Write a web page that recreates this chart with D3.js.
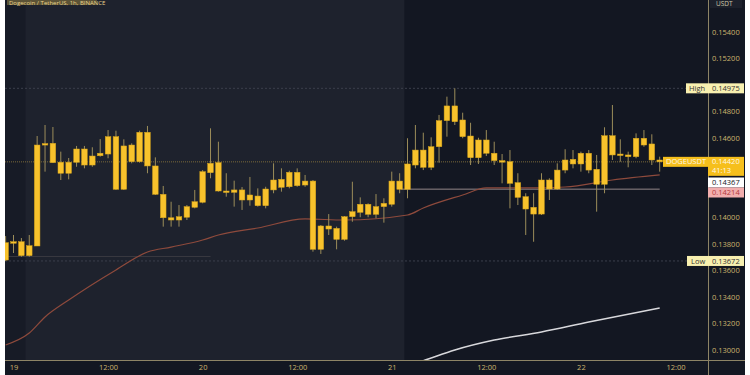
<!DOCTYPE html>
<html>
<head>
<meta charset="utf-8">
<style>
  body { margin: 0; background: #fff; }
  svg { display: block; }
  .tick text { font-family: "Open Sans", sans-serif; }
</style>
<script src="https://d3js.org/d3.v7.min.js"></script>
</head>
<body>
<div id="chart"></div>
<script>
// hourly candles, first one is 18th 23:00 UTC
var firstHour = Date.UTC(2023, 0, 18, 23);
var opens  = [0.13679,0.13808,0.13817,0.13712,0.13785,0.14547,0.14560,0.14417,0.14334,0.14417,0.14517,0.14396,0.14466,0.14479,0.14610,0.14213,0.14547,0.14421,0.14643,0.14389,0.14175,0.13998,0.13981,0.14002,0.14077,0.14115,0.14338,0.14414,0.14200,0.14190,0.14208,0.14132,0.14162,0.14089,0.14208,0.14228,0.14232,0.14341,0.14245,0.14275,0.13760,0.13936,0.13918,0.13835,0.14006,0.14039,0.14100,0.14024,0.14082,0.14100,0.14275,0.14213,0.14396,0.14509,0.14379,0.14534,0.14731,0.14842,0.14736,0.14615,0.14451,0.14585,0.14485,0.14429,0.14421,0.14263,0.14157,0.14077,0.14026,0.14283,0.14215,0.14358,0.14439,0.14404,0.14485,0.14364,0.14251,0.14617,0.14472,0.14472,0.14459,0.14598,0.14555,0.14434];
var highs  = [0.13860,0.13868,0.13845,0.13868,0.14615,0.14698,0.14683,0.14497,0.14449,0.14540,0.14540,0.14530,0.14592,0.14660,0.14655,0.14590,0.14560,0.14655,0.14691,0.14454,0.14238,0.14119,0.14094,0.14094,0.14208,0.14358,0.14673,0.14572,0.14334,0.14278,0.14230,0.14306,0.14220,0.14232,0.14409,0.14371,0.14353,0.14371,0.14321,0.14283,0.13943,0.14026,0.13931,0.14011,0.14270,0.14152,0.14107,0.14177,0.14145,0.14346,0.14334,0.14598,0.14698,0.14640,0.14605,0.14774,0.14912,0.14975,0.14791,0.14715,0.14602,0.14660,0.14572,0.14479,0.14509,0.14334,0.14183,0.14183,0.14334,0.14296,0.14409,0.14515,0.14509,0.14497,0.14509,0.14472,0.14681,0.14849,0.14590,0.14497,0.14635,0.14660,0.14628,0.14459];
var lows   = [0.13672,0.13732,0.13704,0.13704,0.13785,0.14346,0.14411,0.14283,0.14288,0.14383,0.14371,0.14383,0.14459,0.14447,0.14208,0.14208,0.14409,0.14414,0.14334,0.14170,0.13931,0.13931,0.13931,0.13981,0.14069,0.14107,0.14296,0.14195,0.14157,0.14082,0.14057,0.14089,0.14082,0.14069,0.14183,0.14195,0.14220,0.14232,0.14232,0.13742,0.13725,0.13868,0.13760,0.13825,0.13968,0.14002,0.14002,0.13994,0.13961,0.14082,0.14183,0.14145,0.14371,0.14358,0.14358,0.14414,0.14610,0.14698,0.14598,0.14396,0.14404,0.14464,0.14396,0.14258,0.14069,0.14094,0.13868,0.13817,0.14019,0.14132,0.14208,0.14334,0.14371,0.14346,0.14334,0.14044,0.14183,0.14434,0.14421,0.14379,0.14447,0.14534,0.14396,0.14346];
var closes = [0.13810,0.13817,0.13712,0.13787,0.14547,0.14558,0.14414,0.14334,0.14417,0.14517,0.14396,0.14464,0.14485,0.14610,0.14213,0.14540,0.14421,0.14643,0.14389,0.14175,0.13998,0.13981,0.14006,0.14082,0.14119,0.14346,0.14409,0.14200,0.14190,0.14208,0.14132,0.14170,0.14089,0.14215,0.14283,0.14288,0.14341,0.14240,0.14275,0.13760,0.13936,0.13913,0.13835,0.14006,0.14044,0.14100,0.14024,0.14082,0.14107,0.14275,0.14213,0.14404,0.14509,0.14379,0.14534,0.14731,0.14842,0.14723,0.14610,0.14451,0.14585,0.14485,0.14429,0.14419,0.14258,0.14152,0.14064,0.14026,0.14283,0.14215,0.14358,0.14434,0.14404,0.14485,0.14358,0.14251,0.14617,0.14472,0.14479,0.14459,0.14598,0.14547,0.14434,0.14420];

// moving averages, hours counted from the first candle
var maSlowHours  = [0, 3, 5, 8, 14, 18, 21, 25, 27, 32, 38, 43, 51, 53, 58, 61, 67, 71, 77, 83];
var maSlowValues = [0.13038,0.13128,0.13249,0.13377,0.13604,0.13740,0.13777,0.13830,0.13868,0.13921,0.13989,0.13981,0.14019,0.14072,0.14170,0.14223,0.14223,0.14230,0.14283,0.14321];
var ma200Hours  = [52, 53, 57, 62, 68, 74, 83];
var ma200Values = [0.12900,0.12919,0.13000,0.13075,0.13136,0.13211,0.13317];

var priceTicks = [0.130,0.132,0.134,0.136,0.138,0.140,0.146,0.148,0.152,0.154];
var lastPrice = 0.14420, highPrice = 0.14975, lowPrice = 0.13672;
var maLabel = 0.14367, lineLabel = 0.14214, supportLeft = 0.13706;

var hour = 3600 * 1000;
var times = opens.map(function(d, i) { return new Date(firstHour + i * hour); });
var candles = opens.map(function(d, i) {
    return {t: times[i], o: opens[i], h: highs[i], l: lows[i], c: closes[i]};
});

var W = 750, H = 375;
var left = 5, right = 708, bottom = 360;

var svg = d3.select("#chart").append("svg")
    .attr("width", W).attr("height", H);

var x = d3.scaleUtc()
    .domain([new Date(firstHour + 1 * hour - 1.08 * hour), new Date(firstHour + 1 * hour + 88.13 * hour)])
    .range([left, right]);
var y = d3.scaleLinear().domain([0.130, 0.154]).range([350, 32]);

// backgrounds
svg.append("rect").attr("x", left).attr("y", 0).attr("width", 740).attr("height", H).attr("fill", "#131722");
svg.append("rect").attr("x", left).attr("y", 0).attr("width", 20).attr("height", bottom).attr("fill", "#171b26");
svg.append("rect")
    .attr("x", x(new Date(firstHour + 2.5 * hour))).attr("y", 0)
    .attr("width", x(new Date(firstHour + 50.6 * hour)) - x(new Date(firstHour + 2.5 * hour)))
    .attr("height", bottom).attr("fill", "#1e222d");

svg.append("defs").append("clipPath").attr("id", "plot")
    .append("rect").attr("x", left).attr("y", 0).attr("width", right - left).attr("height", bottom);

var plot = svg.append("g").attr("clip-path", "url(#plot)");

// horizontal lines
plot.append("line").attr("x1", left).attr("x2", right)
    .attr("y1", y(highPrice)).attr("y2", y(highPrice))
    .attr("stroke", "#3b3f4b").attr("stroke-width", 1).attr("stroke-dasharray", "2,2");
plot.append("line").attr("x1", left).attr("x2", right)
    .attr("y1", y(lowPrice)).attr("y2", y(lowPrice))
    .attr("stroke", "#3b3f4b").attr("stroke-width", 1).attr("stroke-dasharray", "2,2");
plot.append("line").attr("x1", left).attr("x2", x(new Date(firstHour + 26 * hour)))
    .attr("y1", y(supportLeft)).attr("y2", y(supportLeft))
    .attr("stroke", "#3a3a40").attr("stroke-width", 1);
plot.append("line").attr("x1", left).attr("x2", right)
    .attr("y1", y(lastPrice)).attr("y2", y(lastPrice))
    .attr("stroke", "#7a6a3a").attr("stroke-width", 1).attr("stroke-dasharray", "1,1");
plot.append("line").attr("x1", x(new Date(firstHour + 50.2 * hour))).attr("x2", x(new Date(firstHour + 83 * hour)))
    .attr("y1", y(lineLabel)).attr("y2", y(lineLabel))
    .attr("stroke", "#94878a").attr("stroke-width", 1);

// moving averages
var line = d3.line()
    .x(function(d) { return x(new Date(firstHour + d[0] * hour)); })
    .y(function(d) { return y(d[1]); })
    .curve(d3.curveMonotoneX);
plot.append("path").datum(d3.zip(maSlowHours, maSlowValues))
    .attr("d", line).attr("fill", "none").attr("stroke", "#8e4a3c").attr("stroke-width", 1.2);
plot.append("path").datum(d3.zip(ma200Hours, ma200Values))
    .attr("d", line).attr("fill", "none").attr("stroke", "#d8d8dc").attr("stroke-width", 1.5);

// candles
var bw = 5.6;
var cg = plot.selectAll(".candle").data(candles).enter().append("g").attr("class", "candle");
cg.append("line")
    .attr("x1", function(d) { return x(d.t); }).attr("x2", function(d) { return x(d.t); })
    .attr("y1", function(d) { return y(d.h); }).attr("y2", function(d) { return y(d.l); })
    .attr("stroke", "#9c8d5a").attr("stroke-width", 1);
cg.append("rect")
    .attr("x", function(d) { return x(d.t) - bw / 2; })
    .attr("width", bw)
    .attr("y", function(d) { return y(Math.max(d.o, d.c)); })
    .attr("height", function(d) { return Math.max(1.5, Math.abs(y(d.o) - y(d.c))); })
    .attr("fill", "#f8c22c").attr("stroke", "#d6a41a").attr("stroke-width", 0.5);

// axes
var textCol = "#cdb46e";
var yAxis = svg.append("g").attr("transform", "translate(" + right + ",0)")
    .call(d3.axisRight(y).tickValues(priceTicks).tickSize(0).tickPadding(4).tickFormat(d3.format(".5f")));
yAxis.select(".domain").remove();
yAxis.selectAll("text").attr("fill", textCol).attr("font-size", "7.5px");

var xAxis = svg.append("g").attr("transform", "translate(0," + bottom + ")")
    .call(d3.axisBottom(x).ticks(d3.utcHour.every(12)).tickSize(0).tickPadding(5)
        .tickFormat(function(d) { return d.getUTCHours() === 0 ? d3.utcFormat("%-d")(d) : "12:00"; }));
xAxis.select(".domain").remove();
xAxis.selectAll("text").attr("fill", textCol).attr("font-size", "7.5px");

svg.append("line").attr("x1", left).attr("x2", 745).attr("y1", bottom + 0.5).attr("y2", bottom + 0.5)
    .attr("stroke", "#8d8466").attr("stroke-width", 1);
svg.append("line").attr("x1", right + 0.5).attr("x2", right + 0.5).attr("y1", 0).attr("y2", H)
    .attr("stroke", "#8d8466").attr("stroke-width", 1);

// price labels on the right scale
function box(g, x0, y0, w, h, fill) {
    g.append("rect").attr("x", x0).attr("y", y0).attr("width", w).attr("height", h).attr("fill", fill);
}
function label(g, tx, ty, txt, col) {
    g.append("text").attr("x", tx).attr("y", ty)
        .attr("font-family", "Open Sans, sans-serif").attr("font-size", "7.5px")
        .attr("fill", col).text(txt);
}
var labels = svg.append("g");
var fmt = d3.format(".5f");
var yh = y(highPrice), yl = y(lowPrice), yp = y(lastPrice);
box(labels, 686, yh - 5, 22, 10, "#f8f0b0"); label(labels, 689, yh + 2.6, "High", "#333");
box(labels, right, yh - 5, 36, 10, "#f8f0b0"); label(labels, 712, yh + 2.6, fmt(highPrice), "#333");
box(labels, 687, yl - 5, 21, 10, "#f8f0b0"); label(labels, 691, yl + 2.6, "Low", "#333");
box(labels, right, yl - 5, 36, 10, "#f8f0b0"); label(labels, 712, yl + 2.6, fmt(lowPrice), "#333");
box(labels, 663, yp - 5, 45, 10, "#f6bf1c"); label(labels, 666, yp + 2.6, "DOGEUSDT", "#fff8e6");
box(labels, right, yp - 5, 36, 19, "#f6bf1c");
label(labels, 712, yp + 2.4, fmt(lastPrice), "#fff8e6");
label(labels, 712, yp + 11.4, "41:13", "#fff8e6");
box(labels, right, 177.5, 36, 10, "#ffffff"); label(labels, 712, 185.1, fmt(maLabel), "#131722");
box(labels, right, 187.5, 36, 10, "#f2aeae"); label(labels, 712, 195.1, fmt(lineLabel), "#b23b3b");

// top texts, partly cut off like the screenshot
svg.append("rect").attr("x", 7).attr("y", 0).attr("width", 90).attr("height", 5).attr("fill", "#5c5336");
svg.append("text").attr("x", 9).attr("y", 4.5)
    .attr("font-family", "Open Sans, sans-serif").attr("font-size", "6px")
    .attr("fill", "#e8d38c").text("Dogecoin / TetherUS, 1h, BINANCE");
svg.append("rect").attr("x", 710).attr("y", 0).attr("width", 32).attr("height", 8).attr("fill", "#1c202b");
svg.append("text").attr("x", 716).attr("y", 6)
    .attr("font-family", "Open Sans, sans-serif").attr("font-size", "6.5px")
    .attr("fill", "#cfc7a8").text("USDT");
</script>
</body>
</html>
